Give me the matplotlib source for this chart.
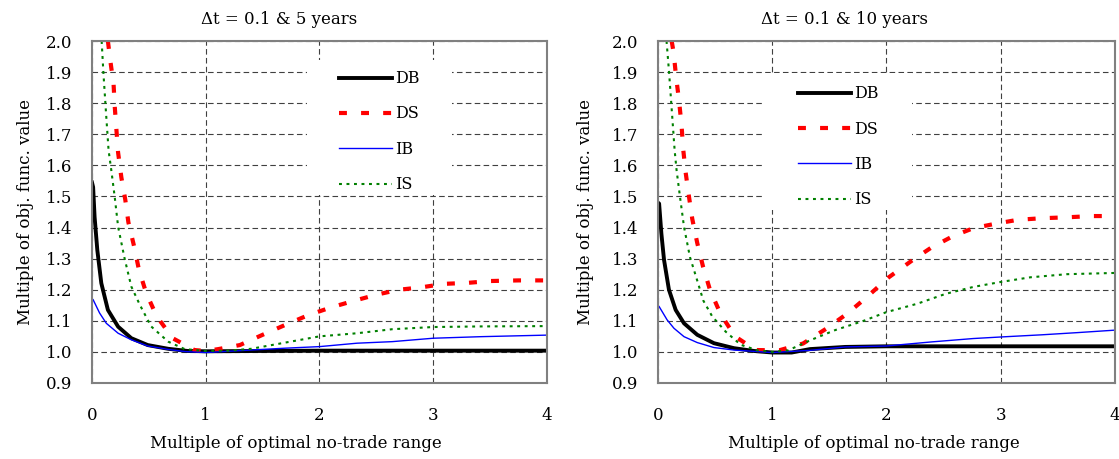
import matplotlib
matplotlib.use("Agg")
from matplotlib import pyplot as plt
from matplotlib.patches import Rectangle

plt.rcParams['font.family'] = ['DejaVu Serif']

# ---- left panel: dt = 0.1 & 5 years
db5_x = [0.0, 0.01, 0.023, 0.047, 0.082, 0.14, 0.23, 0.346, 0.49, 0.67, 0.84, 1.0, 1.5, 2.0, 3.0, 4.0]
db5_y = [1.545, 1.53, 1.434, 1.327, 1.221, 1.135, 1.081, 1.044, 1.022, 1.01, 1.003, 1.002, 1.003, 1.004, 1.004, 1.004]

ds5_x = [0.14, 0.16, 0.19, 0.20, 0.229, 0.258, 0.293, 0.32, 0.37, 0.413, 0.477, 0.57, 0.71, 0.9,
         1.0, 1.11, 1.3, 1.5, 1.7, 1.9, 2.1, 2.3, 2.5, 2.7, 2.9, 3.1, 3.3, 3.5, 3.75, 4.0]
ds5_y = [2.0, 1.94, 1.86, 1.79, 1.643, 1.562, 1.489, 1.417, 1.34, 1.264, 1.189, 1.114, 1.044, 1.006,
         1.003, 1.009, 1.022, 1.055, 1.087, 1.118, 1.143, 1.164, 1.184, 1.2, 1.208, 1.219, 1.222, 1.228, 1.23, 1.23]

ib5_x = [0.0, 0.01, 0.067, 0.126, 0.23, 0.346, 0.49, 0.67, 0.82, 1.0, 1.2, 1.7, 2.0, 2.33, 2.64, 3.0, 3.42, 4.0]
ib5_y = [1.17, 1.168, 1.125, 1.092, 1.06, 1.039, 1.019, 1.008, 1.001, 0.998, 1.002, 1.012, 1.017, 1.028, 1.033, 1.044, 1.049, 1.054]

is5_x = [0.085, 0.1, 0.125, 0.146, 0.17, 0.2, 0.23, 0.287, 0.346, 0.42, 0.52, 0.67, 0.815, 1.0, 1.2, 1.4,
         1.7, 2.0, 2.33, 2.64, 3.0, 3.42, 4.0]
is5_y = [2.0, 1.9, 1.76, 1.648, 1.584, 1.498, 1.402, 1.30, 1.21, 1.152, 1.082, 1.033, 1.009, 1.003, 1.004, 1.01,
         1.03, 1.05, 1.06, 1.073, 1.08, 1.082, 1.083]

# ---- right panel: dt = 0.1 & 10 years
db10_x = [0.0, 0.01, 0.03, 0.053, 0.096, 0.155, 0.228, 0.344, 0.49, 0.665, 0.84, 1.0, 1.17, 1.33, 1.64, 2.0, 3.0, 4.0]
db10_y = [1.48, 1.477, 1.38, 1.296, 1.2, 1.135, 1.092, 1.055, 1.028, 1.012, 1.003, 0.998, 0.998, 1.009, 1.016, 1.018, 1.018, 1.018]

ds10_x = [0.12, 0.137, 0.16, 0.184, 0.206, 0.222, 0.242, 0.27, 0.3, 0.344, 0.394, 0.455, 0.548, 0.674, 0.855,
          1.06, 1.27, 1.47, 1.66, 1.83, 2.02, 2.22, 2.39, 2.58, 2.76, 2.95, 3.15, 3.36, 3.58, 3.8, 4.0]
ds10_y = [2.0, 1.963, 1.88, 1.81, 1.73, 1.648, 1.578, 1.503, 1.428, 1.35, 1.275, 1.2, 1.122, 1.05, 1.006,
          1.005, 1.027, 1.074, 1.124, 1.177, 1.24, 1.293, 1.335, 1.372, 1.398, 1.412, 1.425, 1.43, 1.433, 1.437, 1.437]

ib10_x = [0.0, 0.01, 0.08, 0.14, 0.228, 0.344, 0.49, 0.665, 1.0, 1.33, 1.64, 2.0, 2.39, 2.76, 3.0, 3.36, 3.67, 4.0]
ib10_y = [1.15, 1.146, 1.103, 1.076, 1.049, 1.03, 1.014, 1.006, 0.998, 1.005, 1.016, 1.019, 1.032, 1.043, 1.048, 1.055, 1.062, 1.07]

is10_x = [0.075, 0.097, 0.128, 0.146, 0.163, 0.193, 0.228, 0.28, 0.339, 0.397, 0.475, 0.593, 0.724, 0.87, 1.0,
          1.14, 1.33, 1.55, 1.8, 2.0, 2.27, 2.52, 2.76, 3.0, 3.26, 3.58, 4.0]
is10_y = [2.0, 1.9, 1.74, 1.648, 1.584, 1.498, 1.402, 1.305, 1.235, 1.165, 1.114, 1.065, 1.023, 1.005, 1.0,
          1.005, 1.037, 1.07, 1.1, 1.128, 1.155, 1.187, 1.209, 1.225, 1.24, 1.25, 1.254]

labels = ["DB", "DS", "IB", "IS"]
x_ticks = [0, 1, 2, 3, 4]
y_ticks = [0.9, 1.0, 1.1, 1.2, 1.3, 1.4, 1.5, 1.6, 1.7, 1.8, 1.9, 2.0]

# rect, title x, xlabel x, ylabel pad, white box (x0, y0, w, h), legend anchor
panels = [
    ("\u0394t = 0.1 & 5 years", [(db5_x, db5_y), (ds5_x, ds5_y), (ib5_x, ib5_y), (is5_x, is5_y)],
     [0.0822, 0.1656, 0.4066, 0.745], 0.411, 0.448, 9,
     (0.4725, 0.550, 0.3185, 0.394), (0.543, 0.915)),
    ("\u0394t = 0.1 & 10 years", [(db10_x, db10_y), (ds10_x, ds10_y), (ib10_x, ib10_y), (is10_x, is10_y)],
     [0.588, 0.1656, 0.4084, 0.745], 0.409, 0.473, 13,
     (0.2298, 0.506, 0.326, 0.400), (0.306, 0.871)),
]

fig = plt.figure(figsize=(11.19, 4.59), dpi=100)

for title, series, rect, tx, xx, ypad, box, leg_pos in panels:
    ax = fig.add_axes(rect)
    ax.plot(series[0][0], series[0][1], '-', color='black', linewidth=2.8, label=labels[0])
    ax.plot(series[1][0], series[1][1], color='red', linewidth=3.0, dashes=(1.9, 3.4),
            dash_capstyle='butt', label=labels[1])
    ax.plot(series[2][0], series[2][1], '-', color='blue', linewidth=1.0, label=labels[2])
    ax.plot(series[3][0], series[3][1], color='green', linewidth=1.5, dashes=(1.4, 2.2), label=labels[3])

    ax.set_xlim(0, 4)
    ax.set_ylim(0.9, 2.0)
    ax.set_xticks(x_ticks)
    ax.set_yticks(y_ticks)
    ax.set_yticklabels(["%.1f" % v for v in y_ticks])
    ax.tick_params(axis='both', length=0, labelsize=12)
    ax.tick_params(axis='x', pad=17)
    ax.tick_params(axis='y', pad=14)
    ax.grid(True, color='#404040', linestyle=(0, (5, 3)), linewidth=0.8)
    ax.set_axisbelow(True)
    for sp in ax.spines.values():
        sp.set_color('#808080')
        sp.set_linewidth(1.5)

    ax.set_title(title, fontsize=12, pad=12, x=tx)
    ax.set_ylabel("Multiple of obj. func. value", fontsize=12, labelpad=ypad)
    ax.set_xlabel("Multiple of optimal no-trade range", fontsize=12, labelpad=8, x=xx)

    # white area behind the legend that hides the grid
    ax.add_patch(Rectangle((box[0], box[1]), box[2], box[3], transform=ax.transAxes,
                           facecolor='white', edgecolor='none', zorder=1))

    ax.legend(loc='upper left', bbox_to_anchor=leg_pos, frameon=False, fontsize=11.5,
              handlelength=3.3, handletextpad=0.2, labelspacing=1.15, borderpad=0,
              borderaxespad=0)

plt.savefig("out.png", dpi=100)
plt.close()
